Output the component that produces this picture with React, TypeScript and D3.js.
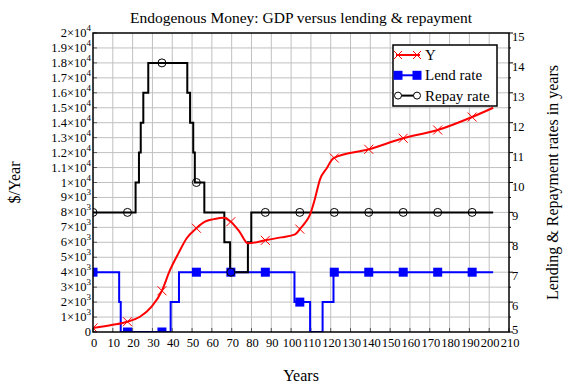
import React, { useEffect, useRef } from "react";
import * as d3 from "d3";

// GDP (left axis)
const gdpYears = [0, 10, 17.4, 23.7, 29.6, 34.8, 38.9, 43.1, 47.3, 52.2, 56.5, 61, 65.8, 69.6, 74, 78.2, 87, 95, 102, 104.8, 107, 109.5, 112, 114.6, 118, 121.3, 139.2, 156.6, 174, 191.4, 202];
const gdp = [270, 480, 690, 1020, 1690, 2760, 4150, 5260, 6270, 6940, 7380, 7550, 7650, 7380, 6700, 5930, 6130, 6330, 6530, 6940, 7300, 7830, 8900, 10210, 10950, 11620, 12220, 12960, 13510, 14380, 15000];

// lending & repayment rates (right axis), step values starting at each year
const lendYears = [0, 13.2, 14, 39.2, 43.4, 101.7, 109.6, 115.9, 121.4, 202];
const lendRate = [7, 6, 5, 6, 7, 6, 5, 6, 7, 7];
const repayYears = [0, 21.5, 23.2, 24.1, 25.4, 27.9, 47.6, 49, 50.6, 51.4, 56.2, 66.3, 69.2, 78.2, 79.9, 202];
const repayRate = [9, 10, 11, 12, 13, 14, 13, 12, 11, 10, 9, 8, 7, 8, 9, 9];

const markerYears = [0, 17.4, 34.8, 52.2, 69.6, 87, 104.4, 121.8, 139.2, 156.6, 174, 191.4];

const legendNames = ["Y", "Lend rate", "Repay rate"];

const FONT = "'Liberation Serif', 'Times New Roman', serif";

export default function App() {
  const ref = useRef<SVGSVGElement>(null);

  useEffect(() => {
    const W = 566, H = 385;
    const margin = { top: 33, right: 57, bottom: 53, left: 93 };
    const width = W - margin.left - margin.right;
    const height = H - margin.top - margin.bottom;

    const svg = d3.select(ref.current);
    svg.selectAll("*").remove();

    const x = d3.scaleLinear().domain([0, 210]).range([0, width]);
    const yL = d3.scaleLinear().domain([0, 20000]).range([height, 0]);
    const yR = d3.scaleLinear().domain([5, 15]).range([height, 0]);

    svg.append("defs").append("clipPath").attr("id", "plotclip")
      .append("rect").attr("width", width).attr("height", height);

    const g = svg.append("g").attr("transform", `translate(${margin.left},${margin.top})`);

    // grid
    g.append("g").selectAll("line").data(d3.range(10, 210, 10)).enter().append("line")
      .attr("x1", d => x(d)).attr("x2", d => x(d)).attr("y1", 0).attr("y2", height)
      .attr("stroke", "#c0c0c0").attr("stroke-width", 1);
    g.append("g").selectAll("line").data(d3.range(1000, 20000, 1000)).enter().append("line")
      .attr("x1", 0).attr("x2", width).attr("y1", d => yL(d)).attr("y2", d => yL(d))
      .attr("stroke", "#c0c0c0").attr("stroke-width", 1);

    // left axis ticks + labels
    const leftTicks = d3.range(0, 20001, 1000);
    g.append("g").selectAll("line").data(leftTicks).enter().append("line")
      .attr("x1", 0).attr("x2", 4).attr("y1", d => yL(d)).attr("y2", d => yL(d))
      .attr("stroke", "#555");
    const lbl = g.append("g").selectAll("text").data(leftTicks).enter().append("text")
      .attr("x", -2).attr("y", d => yL(d) + 4)
      .attr("text-anchor", "end").attr("font-family", FONT).attr("font-size", 12.5);
    lbl.each(function (d) {
      const t = d3.select(this);
      if (d === 0) { t.text("0"); return; }
      const exp = d >= 10000 ? 4 : 3;
      const m = +(d / Math.pow(10, exp)).toFixed(1);
      t.append("tspan").text(`${m}×10`);
      t.append("tspan").attr("dy", -6).attr("font-size", 9).text(exp);
    });

    // bottom axis labels
    const bottomTicks = d3.range(0, 211, 10);
    g.append("g").selectAll("line").data(bottomTicks).enter().append("line")
      .attr("x1", d => x(d)).attr("x2", d => x(d)).attr("y1", height).attr("y2", height - 4)
      .attr("stroke", "#555");
    g.append("g").selectAll("text").data(bottomTicks).enter().append("text")
      .attr("x", d => x(d) + 1).attr("y", height + 15)
      .attr("text-anchor", "middle").attr("font-family", FONT).attr("font-size", 12.5)
      .text(d => d);

    // right axis
    const rightMajor = d3.range(5, 15.01, 1);
    const rightMinor = d3.range(5.5, 15, 1);
    g.append("g").selectAll("line").data(rightMajor).enter().append("line")
      .attr("x1", width).attr("x2", width + 4).attr("y1", d => yR(d)).attr("y2", d => yR(d))
      .attr("stroke", "#000");
    g.append("g").selectAll("line").data(rightMinor).enter().append("line")
      .attr("x1", width).attr("x2", width + 2).attr("y1", d => yR(d)).attr("y2", d => yR(d))
      .attr("stroke", "#000");
    g.append("g").selectAll("text").data(rightMajor).enter().append("text")
      .attr("x", width + 3).attr("y", d => yR(d) + (d === 5 ? 2 : 8))
      .attr("font-family", FONT).attr("font-size", 12.5)
      .text(d => d);

    // series
    const plot = g.append("g").attr("clip-path", "url(#plotclip)");

    const gdpAt = d3.scaleLinear().domain(gdpYears).range(gdp);
    const stepAt = (yrs: number[], vals: number[], t: number) => {
      const i = d3.bisectRight(yrs, t) - 1;
      return vals[Math.max(0, i)];
    };

    const stepLine = d3.line<number>().curve(d3.curveStepAfter);

    plot.append("path")
      .attr("d", stepLine.x((d, i) => x(lendYears[i])).y(d => yR(d))(lendRate))
      .attr("fill", "none").attr("stroke", "#0000ff").attr("stroke-width", 2);
    plot.append("path")
      .attr("d", stepLine.x((d, i) => x(repayYears[i])).y(d => yR(d))(repayRate))
      .attr("fill", "none").attr("stroke", "#000").attr("stroke-width", 2);
    plot.append("path")
      .attr("d", d3.line<number>().curve(d3.curveMonotoneX)
        .x((d, i) => x(gdpYears[i])).y(d => yL(d))(gdp))
      .attr("fill", "none").attr("stroke", "#ff0000").attr("stroke-width", 2);

    const cross = (sel: any, cx: number, cy: number, s: number) => {
      sel.append("path")
        .attr("d", `M${cx - s},${cy - s}L${cx + s},${cy + s}M${cx - s},${cy + s}L${cx + s},${cy - s}`)
        .attr("stroke", "#ff0000").attr("stroke-width", 1).attr("fill", "none");
    };

    markerYears.forEach(t => {
      plot.append("rect")
        .attr("x", x(t) - 4.5).attr("y", yR(stepAt(lendYears, lendRate, t)) - 4.5)
        .attr("width", 9).attr("height", 9).attr("fill", "#0000ff");
      plot.append("circle")
        .attr("cx", x(t)).attr("cy", yR(stepAt(repayYears, repayRate, t))).attr("r", 4)
        .attr("fill", "none").attr("stroke", "#000").attr("stroke-width", 1);
      cross(plot, x(t), yL(gdpAt(t)), 4.5);
    });

    // frame
    g.append("rect").attr("width", width).attr("height", height)
      .attr("fill", "none").attr("stroke", "#000").attr("stroke-width", 1.5);

    // legend
    const lg = g.append("g").attr("transform", `translate(${300},${12})`);
    lg.append("rect").attr("width", 104).attr("height", 61)
      .attr("fill", "#fff").attr("stroke", "#000").attr("stroke-width", 1.5);
    legendNames.forEach((name, i) => {
      const cy = 10 + i * 20.3;
      const color = ["#ff0000", "#0000ff", "#000"][i];
      lg.append("line").attr("x1", 3).attr("x2", 27).attr("y1", cy).attr("y2", cy)
        .attr("stroke", color).attr("stroke-width", 2);
      [5, 24].forEach(mx => {
        if (i === 0) cross(lg, mx, cy, 4);
        else if (i === 1) lg.append("rect").attr("x", mx - 4.5).attr("y", cy - 4.5)
          .attr("width", 9).attr("height", 9).attr("fill", color);
        else lg.append("circle").attr("cx", mx).attr("cy", cy).attr("r", 3.5)
          .attr("fill", "#fff").attr("stroke", "#000");
      });
      lg.append("text").attr("x", 32).attr("y", cy + 5)
        .attr("font-family", FONT).attr("font-size", 15).text(name);
    });

    // titles
    svg.append("text").attr("x", margin.left + width / 2).attr("y", 23)
      .attr("text-anchor", "middle").attr("font-family", FONT).attr("font-size", 15.5)
      .text("Endogenous Money: GDP versus lending & repayment");
    svg.append("text").attr("x", margin.left + width / 2).attr("y", 381)
      .attr("text-anchor", "middle").attr("font-family", FONT).attr("font-size", 16)
      .text("Years");
    svg.append("text").attr("transform", `translate(20,${margin.top + height / 2}) rotate(-90)`)
      .attr("text-anchor", "middle").attr("font-family", FONT).attr("font-size", 16)
      .text("$/Year");
    svg.append("text").attr("transform", `translate(558,${margin.top + height / 2}) rotate(-90)`)
      .attr("text-anchor", "middle").attr("font-family", FONT).attr("font-size", 16)
      .text("Lending & Repayment rates in years");
  }, []);

  return (
    <svg ref={ref} width={566} height={385} style={{ position: "absolute", left: 0, top: 0, background: "#fff" }} />
  );
}
